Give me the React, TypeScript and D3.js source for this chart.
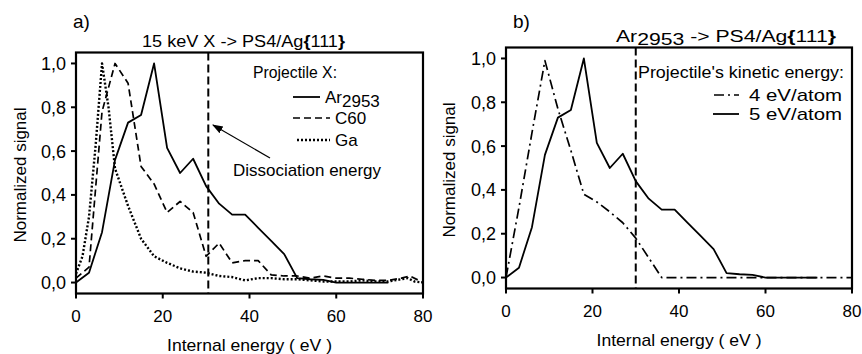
import React from "react";
import * as d3 from "d3";

// ---------- data ----------
const arEnergy = [0, 3, 6, 9, 12, 15, 18, 21, 24, 27, 30, 33, 36, 39, 42, 45, 48, 51, 54, 57, 60, 63, 66, 69, 72];
const arSignal = [0, 0.045, 0.23, 0.56, 0.73, 0.765, 1.0, 0.615, 0.5, 0.565, 0.44, 0.36, 0.31, 0.31, 0.25, 0.19, 0.13, 0.02, 0.015, 0.012, 0.0, 0.0, 0.0, 0.0, 0.0];

const c60Energy = [0, 3, 6, 9, 12, 15, 18, 21, 24, 27, 30, 33, 36, 39, 42, 45, 48, 51, 54, 57, 60, 63, 66, 69, 72, 75, 77, 80];
const c60Signal = [0.02, 0.07, 0.78, 1.0, 0.91, 0.53, 0.45, 0.32, 0.37, 0.32, 0.12, 0.18, 0.09, 0.1, 0.1, 0.035, 0.03, 0.03, 0.02, 0.03, 0.02, 0.02, 0.015, 0.01, 0.01, 0.02, 0.03, 0.0];

const gaEnergy = [0, 1.5, 3, 4.5, 6, 7.5, 9, 12, 15, 18, 21, 24, 27, 30, 33, 36, 39, 42, 45, 48, 51, 54, 57, 60, 63, 66, 69, 72, 75, 76.5, 78, 80];
const gaSignal = [0.04, 0.12, 0.3, 0.62, 1.0, 0.8, 0.52, 0.35, 0.2, 0.12, 0.09, 0.065, 0.05, 0.045, 0.03, 0.025, 0.01, 0.02, 0.02, 0.015, 0.015, 0.01, 0.005, 0.005, 0.005, 0.01, 0.005, 0.005, 0.015, 0.02, 0.005, 0.0];

const ev4Energy = [0, 3, 6, 9, 12, 15, 18, 21, 24, 27, 30, 33, 36, 39, 42, 45, 48, 51, 54, 57, 60, 63, 66, 69, 72, 75, 78, 80];
const ev4Signal = [0, 0.32, 0.66, 0.99, 0.77, 0.58, 0.38, 0.345, 0.3, 0.25, 0.18, 0.09, 0.0, 0, 0, 0, 0, 0, 0, 0, 0, 0, 0, 0, 0, 0, 0, 0];

const xTicks = [0, 20, 40, 60, 80];
const yTicks = [0, 0.2, 0.4, 0.6, 0.8, 1.0];
const yTickLabels = ["0,0", "0,2", "0,4", "0,6", "0,8", "1,0"];

const dissocA = 30.5;
const dissocB = 30;

const FONT = "'Liberation Sans', Arial, Helvetica, sans-serif";
const ADJ = "spacingAndGlyphs";

type Series = { x: number[]; y: number[]; dash: string; width: number };

function Panel({
  left, right, top, bottom, series, dissoc, yLabelX, xLabelY, tickLabelY,
}: {
  left: number; right: number; top: number; bottom: number; series: Series[]; dissoc: number;
  yLabelX: number; xLabelY: number; tickLabelY: number;
}) {
  const x = d3.scaleLinear().domain([0, 80]).range([left, right]);
  const y = d3.scaleLinear().domain([-0.05, 1.05]).range([bottom, top]);
  const line = d3.line<[number, number]>().x((d) => x(d[0])).y((d) => y(d[1]));
  const midX = (left + right) / 2;
  return (
    <g>
      {series.map((s, i) => (
        <path
          key={i}
          d={line(s.x.map((v, j) => [v, s.y[j]] as [number, number])) || ""}
          fill="none"
          stroke="#000"
          strokeWidth={s.width}
          strokeDasharray={s.dash}
          strokeLinejoin="round"
        />
      ))}
      <line x1={x(dissoc)} x2={x(dissoc)} y1={top} y2={bottom} stroke="#000" strokeWidth={2} strokeDasharray="8,4" />
      <rect x={left} y={top} width={right - left} height={bottom - top} fill="none" stroke="#000" strokeWidth={2.2} />
      {yTicks.map((t, i) => (
        <g key={"y" + i}>
          <line x1={left - 5} x2={left} y1={y(t)} y2={y(t)} stroke="#000" strokeWidth={2} />
          <text x={left - 10} y={y(t)} dy="0.36em" textAnchor="end" fontSize={18} fontFamily={FONT}>
            {yTickLabels[i]}
          </text>
        </g>
      ))}
      {xTicks.map((t, i) => (
        <g key={"x" + i}>
          <line x1={x(t)} x2={x(t)} y1={bottom} y2={bottom + 5} stroke="#000" strokeWidth={2} />
          <text x={x(t)} y={tickLabelY} textAnchor="middle" fontSize={17} fontFamily={FONT}>
            {t}
          </text>
        </g>
      ))}
      <text
        transform={`translate(${yLabelX},${(top + bottom) / 2 + 2}) rotate(-90)`}
        textAnchor="middle"
        dy="0.36em"
        fontSize={17}
        fontFamily={FONT}
      >
        Normalized signal
      </text>
      <text x={midX} y={xLabelY} textAnchor="middle" fontSize={17} fontFamily={FONT} textLength={165} lengthAdjust={ADJ}>
        Internal energy ( eV )
      </text>
    </g>
  );
}

export default function App() {
  const solid = "";
  return (
    <svg width={862} height={354} style={{ position: "absolute", left: 0, top: 0, background: "#fff" }}>
      <defs>
        <marker id="arrow" viewBox="0 0 10 10" refX="9" refY="5" markerWidth="9" markerHeight="9" orient="auto">
          <path d="M0,1.5 L10,5 L0,8.5 z" fill="#000" />
        </marker>
      </defs>
      <rect width={862} height={354} fill="#fff" />
      {/* Panel a */}
      <Panel
        left={76}
        right={423}
        top={52.5}
        bottom={293.5}
        dissoc={dissocA}
        yLabelX={20}
        xLabelY={351}
        tickLabelY={322}
        series={[
          { x: gaEnergy, y: gaSignal, dash: "2,2", width: 2.4 },
          { x: c60Energy, y: c60Signal, dash: "7,4", width: 1.7 },
          { x: arEnergy, y: arSignal, dash: solid, width: 1.8 },
        ]}
      />
      <text x={73} y={28} fontSize={19} fontFamily={FONT}>a)</text>
      <text x={142} y={47} fontSize={16} fontFamily={FONT} textLength={203} lengthAdjust={ADJ}>
        15 keV X -&gt; PS4/Ag<tspan fontWeight="bold">{"{"}</tspan>111<tspan fontWeight="bold">{"}"}</tspan>
      </text>
      <text x={253} y={78} fontSize={17} fontFamily={FONT} textLength={84} lengthAdjust={ADJ}>Projectile X:</text>
      <line x1={293} x2={320} y1={97} y2={97} stroke="#000" strokeWidth={1.8} />
      <text x={325} y={103} fontSize={17} fontFamily={FONT}>
        Ar<tspan dy={4}>2953</tspan>
      </text>
      <line x1={293} x2={330} y1={118} y2={118} stroke="#000" strokeWidth={1.7} strokeDasharray="7,4" />
      <text x={335} y={124} fontSize={17} fontFamily={FONT}>C60</text>
      <line x1={297} x2={330} y1={140} y2={140} stroke="#000" strokeWidth={2.4} strokeDasharray="2,2" />
      <text x={335} y={146} fontSize={17} fontFamily={FONT}>Ga</text>
      <line x1={270} y1={158} x2={213} y2={125} stroke="#000" strokeWidth={1.2} markerEnd="url(#arrow)" />
      <text x={233} y={176} fontSize={17} fontFamily={FONT} textLength={148} lengthAdjust={ADJ}>Dissociation energy</text>

      {/* Panel b */}
      <Panel
        left={506}
        right={852}
        top={47.5}
        bottom={288.5}
        dissoc={dissocB}
        yLabelX={449}
        xLabelY={346}
        tickLabelY={317}
        series={[
          { x: ev4Energy, y: ev4Signal, dash: "10,4,2,4", width: 1.7 },
          { x: arEnergy, y: arSignal, dash: solid, width: 1.8 },
        ]}
      />
      <text x={513} y={28} fontSize={19} fontFamily={FONT}>b)</text>
      <text x={616} y={42} fontSize={16} fontFamily={FONT} textLength={220} lengthAdjust={ADJ}>
        Ar<tspan dy={3}>2953</tspan><tspan dy={-3}> -&gt; PS4/Ag</tspan><tspan fontWeight="bold">{"{"}</tspan>111<tspan fontWeight="bold">{"}"}</tspan>
      </text>
      <text x={638} y={78} fontSize={17} fontFamily={FONT} textLength={206} lengthAdjust={ADJ}>Projectile's kinetic energy:</text>
      <line x1={714} x2={739} y1={95} y2={95} stroke="#000" strokeWidth={1.7} strokeDasharray="10,4,2,4" />
      <text x={749} y={101} fontSize={17} fontFamily={FONT} textLength={93} lengthAdjust={ADJ}>4 eV/atom</text>
      <line x1={713} x2={739} y1={114} y2={114} stroke="#000" strokeWidth={1.8} />
      <text x={749} y={120} fontSize={17} fontFamily={FONT} textLength={93} lengthAdjust={ADJ}>5 eV/atom</text>
    </svg>
  );
}
